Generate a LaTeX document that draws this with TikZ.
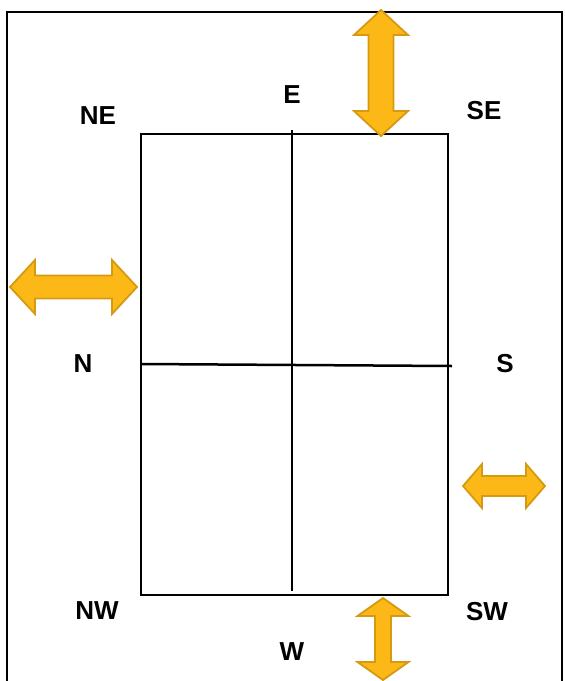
\documentclass[tikz,border=0pt]{standalone}
\usepackage{fontspec}
\setmainfont{Liberation Sans}
\definecolor{arrfill}{RGB}{252,184,22}
\definecolor{arrdraw}{RGB}{214,154,18}
\newcommand\myVarrow[6]{% cx, ytop, ybot, headhalf, shafthalf, headlen
  \path[arrowshape] ({#1},{#2}) -- ({#1+#4},{#2+#6}) -- ({#1+#5},{#2+#6}) -- ({#1+#5},{#3-#6}) -- ({#1+#4},{#3-#6}) -- ({#1},{#3}) -- ({#1-#4},{#3-#6}) -- ({#1-#5},{#3-#6}) -- ({#1-#5},{#2+#6}) -- ({#1-#4},{#2+#6}) -- cycle;}
\newcommand\myHarrow[6]{% cy, xleft, xright, headhalf, shafthalf, headlen
  \path[arrowshape] ({#2},{#1}) -- ({#2+#6},{#1-#4}) -- ({#2+#6},{#1-#5}) -- ({#3-#6},{#1-#5}) -- ({#3-#6},{#1-#4}) -- ({#3},{#1}) -- ({#3-#6},{#1+#4}) -- ({#3-#6},{#1+#5}) -- ({#2+#6},{#1+#5}) -- ({#2+#6},{#1+#4}) -- cycle;}
\begin{document}
\begin{tikzpicture}[x=1pt,y=-1pt,
  lbl/.style={font=\fontsize{26}{29}\selectfont\bfseries, inner sep=0pt},
  frame/.style={line width=2.6pt, black},
  grid/.style={line width=2.5pt, black},
  arrowshape/.style={fill=arrfill, draw=arrdraw, line width=1.8pt, line join=miter}]
\useasboundingbox (0,0) rectangle (565,681);
\fill[white] (0,0) rectangle (565,681);
% outer frame (open at the bottom)
\draw[frame] (7,690) -- (7,12) -- (562,12) -- (562,690);
% inner rectangle
\coordinate (tl) at (141,134);
\coordinate (br) at (448,595);
\draw[grid] (tl) rectangle (br);
\coordinate (vt) at (292,130);
\coordinate (vb) at (292,591);
\draw[grid] (vt) -- (vb);
\coordinate (hl) at (141,364);
\coordinate (hr) at (452,366);
\draw[grid] (hl) -- (hr);
% labels
\node[lbl] (NE) at (98,116) {NE};
\node[lbl] (E) at (292,95) {E};
\node[lbl] (SE) at (484,111) {SE};
\node[lbl] (N) at (83,364) {N};
\node[lbl] (S) at (505,364) {S};
\node[lbl] (NW) at (97,611) {NW};
\node[lbl] (SW) at (487,612) {SW};
\node[lbl] (W) at (292,652) {W};
% arrows
\myVarrow{381}{10}{136}{27}{12.5}{25}
\myVarrow{383}{598}{680}{25.5}{8}{18}
\myHarrow{287}{10}{137}{27}{11.5}{25}
\myHarrow{486}{463}{545}{22}{10}{19}
\end{tikzpicture}
\end{document}
